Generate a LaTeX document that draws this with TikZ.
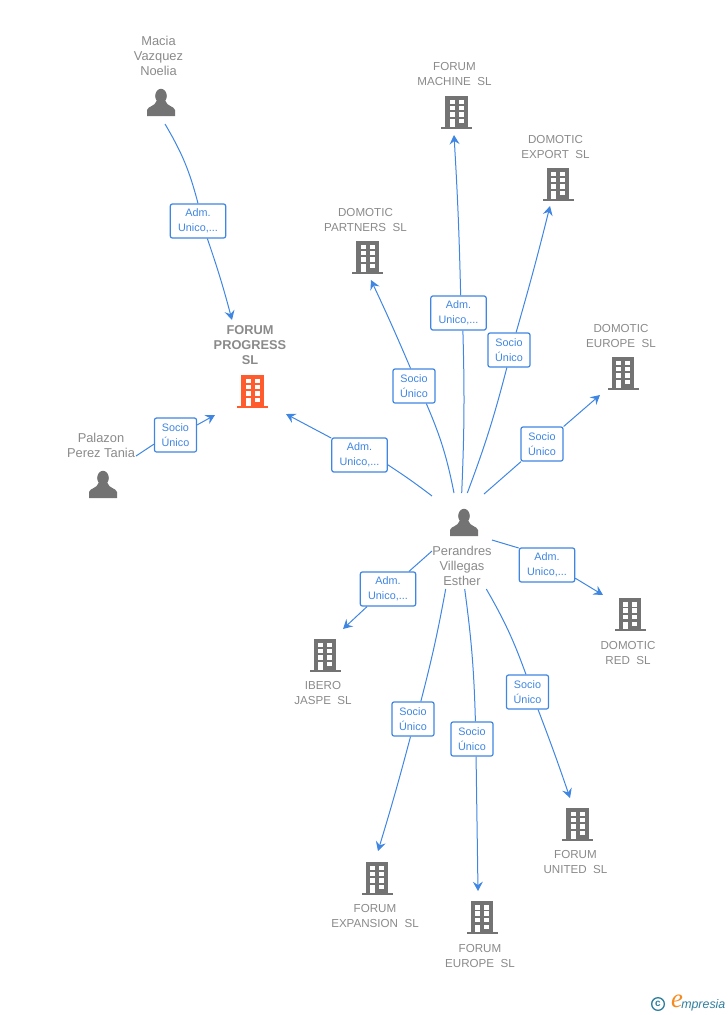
\documentclass[tikz,border=0pt]{standalone}
\usepackage{fontspec}
\setmainfont{Liberation Sans}
\newfontfamily\logofont{Liberation Serif}
\usetikzlibrary{arrows.meta}

\definecolor{linkblue}{HTML}{3F86E3}
\definecolor{labelgray}{HTML}{8A8A8A}
\definecolor{icongray}{HTML}{737373}
\definecolor{mainorange}{HTML}{FF5B2C}
\definecolor{logoblue}{HTML}{2F7F9F}
\definecolor{logoorange}{HTML}{F58A1F}

\tikzset{
    rel/.style={linkblue, line width=0.75pt},
    relto/.style={rel, -{Stealth[length=7pt,width=7.5pt,inset=2.5pt]}},
    rolebox/.style={draw=linkblue, line width=0.9pt, fill=white, rounded corners=1.5pt, inner sep=0pt,
        minimum height=25.5pt, text=linkblue, align=center, font=\fontsize{8.1}{11.25}\selectfont},
    sociobox/.style={rolebox, minimum width=31.5pt},
    admbox/.style={rolebox, minimum width=41.5pt},
    person/.style={text=labelgray, align=center, inner sep=0pt, font=\fontsize{9.65}{11.25}\selectfont},
    company/.style={text=labelgray, align=center, inner sep=0pt, font=\fontsize{8.7}{11.25}\selectfont},
    pics/tower/.style={code={
        \fill[#1] (-11.3,-16.3) rectangle (11.3,14.7);
        \fill[#1] (-15.5,14.5) rectangle (15.5,16.5);
        \foreach \y in {-12.3,-6.3,0.3}
            \foreach \x in {-7,2.4}
                \fill[white] (\x,\y) rectangle ++(5,4.3);
        \fill[white] (-7,7) rectangle (-2,14.7);
        \fill[white] (2.4,7) rectangle (7.4,11.3);
    }},
    pics/human/.style={code={
        \fill[icongray] (0,-7) ellipse (5.8 and 7.2);
        \fill[icongray] (-14,13) -- (-14,7) .. controls (-13,3) and (-6,3.5) .. (-4.5,-2)
            -- (4.5,-2) .. controls (6,3.5) and (13,3) .. (14,7) -- (14,13) -- cycle;
    }}
}

\begin{document}
\begin{tikzpicture}[x=0.75pt,y=-0.75pt]
    \useasboundingbox (0,0) rectangle (728,1015);

    % Icons
    \pic at (161,103) {human};
    \pic at (103,485) {human};
    \pic at (464,523) {human};
    \pic at (252.5,391) {tower=mainorange};
    \pic at (456.5,112) {tower=icongray};
    \pic at (558,184) {tower=icongray};
    \pic at (367.5,257) {tower=icongray};
    \pic at (623,373) {tower=icongray};
    \pic at (630,614.5) {tower=icongray};
    \pic at (325,655) {tower=icongray};
    \pic at (577.5,824) {tower=icongray};
    \pic at (377,878) {tower=icongray};
    \pic at (482,917.5) {tower=icongray};

    % Names
    \node[person] (macia) at (158.5,55.5) {Macia\\Vazquez\\Noelia};
    \node[person] (palazon) at (101,445) {Palazon\\Perez Tania};
    \node[person] (esther) at (462,565.5) {Perandres\\Villegas\\Esther};
    \node[company, font=\fontsize{9.6}{11.25}\selectfont\bfseries] (progress) at (250,345.5) {FORUM\\PROGRESS\\SL};
    \node[company] (machine) at (454.5,74.5) {FORUM\\MACHINE~~SL};
    \node[company] (export) at (555.5,146.5) {DOMOTIC\\EXPORT~~SL};
    \node[company] (partners) at (365.5,219.5) {DOMOTIC\\PARTNERS~~SL};
    \node[company] (europe) at (621,335.5) {DOMOTIC\\EUROPE~~SL};
    \node[company] (red) at (628,652.5) {DOMOTIC\\RED~~SL};
    \node[company] (ibero) at (323,692.5) {IBERO\\JASPE~~SL};
    \node[company] (united) at (575.5,861.5) {FORUM\\UNITED~~SL};
    \node[company] (expansion) at (375,915.5) {FORUM\\EXPANSION~~SL};
    \node[company] (feurope) at (480,955.5) {FORUM\\EUROPE~~SL};

    % Role boxes
    \node[admbox] (bmacia) at (198,221) {Adm.\\Unico,...};
    \node[sociobox] (bpalazon) at (175.5,435) {Socio\\Único};
    \node[admbox] (bprogress) at (359.5,455) {Adm.\\Unico,...};
    \node[sociobox] (bpartners) at (414,386) {Socio\\Único};
    \node[admbox] (bmachine) at (458.5,313) {Adm.\\Unico,...};
    \node[sociobox] (bexport) at (509,350) {Socio\\Único};
    \node[sociobox] (beurope) at (542,444) {Socio\\Único};
    \node[admbox] (bred) at (547,565) {Adm.\\Unico,...};
    \node[admbox] (bibero) at (388,589) {Adm.\\Unico,...};
    \node[sociobox] (bexpansion) at (413,719) {Socio\\Único};
    \node[sociobox] (bfeurope) at (472,739) {Socio\\Único};
    \node[sociobox] (bunited) at (527.5,692) {Socio\\Único};

    % Line ends
    \coordinate (smacia) at (165,124);
    \coordinate (tmacia) at (232,320);
    \coordinate (spalazon) at (136,456);
    \coordinate (tpalazon) at (215,415);
    \coordinate (sprogress) at (432,496);
    \coordinate (tprogress) at (286,414);
    \coordinate (spartners) at (454,493);
    \coordinate (tpartners) at (371,280);
    \coordinate (smachine) at (461.7,493);
    \coordinate (tmachine) at (454,135);
    \coordinate (sexport) at (467.3,493);
    \coordinate (texport) at (550,206);
    \coordinate (seurope) at (484,494);
    \coordinate (teurope) at (600,395);
    \coordinate (sred) at (492,540);
    \coordinate (tred) at (603,595);
    \coordinate (sibero) at (432,551);
    \coordinate (tibero) at (343,629);
    \coordinate (sexpansion) at (445.7,589);
    \coordinate (texpansion) at (378,851);
    \coordinate (sfeurope) at (464.7,589);
    \coordinate (tfeurope) at (478,891);
    \coordinate (sunited) at (486.3,589);
    \coordinate (tunited) at (570,798);

    % Connectors
    \draw[rel] (smacia) to[bend left=8] (bmacia.90);
    \draw[relto] (bmacia.-62) to[bend left=2] (tmacia);
    \draw[rel] (spalazon) -- (bpalazon.203);
    \draw[relto] (bpalazon.25) -- (tpalazon);
    \draw[rel] (sprogress) to[bend right=2] (bprogress.-19);
    \draw[relto] (bprogress.149) -- (tprogress);
    \draw[rel] (spartners) to[bend right=6] (bpartners.-55);
    \draw[relto] (bpartners.101) to[bend right=1] (tpartners);
    \draw[rel] (smachine) to[bend right=2] (bmachine.-76);
    \draw[relto] (bmachine.83) to[bend right=1] (tmachine);
    \draw[rel] (sexport) to[bend right=3] (bexport.-97);
    \draw[relto] (bexport.68) to[bend right=1] (texport);
    \draw[rel] (seurope) -- (beurope.220);
    \draw[relto] (beurope.39) -- (teurope);
    \draw[rel] (sred) -- (bred.149);
    \draw[relto] (bred.-25) -- (tred);
    \draw[rel] (sibero) -- (bibero.40);
    \draw[relto] (bibero.220) -- (tibero);
    \draw[rel] (sexpansion) to[bend left=2] (bexpansion.66);
    \draw[relto] (bexpansion.-98) to[bend left=1] (texpansion);
    \draw[rel] (sfeurope) to[bend left=3] (bfeurope.79);
    \draw[relto] (bfeurope.-77) -- (tfeurope);
    \draw[rel] (sunited) to[bend left=5] (bunited.95);
    \draw[relto] (bunited.-59) to[bend left=1] (tunited);

    % Logo
    \node[draw=logoblue, line width=1pt, circle, inner sep=0pt, minimum size=9.5pt, text=logoblue,
        font=\bfseries\fontsize{7.5}{7.5}\selectfont] (logoc) at (658,1004) {c};
    \node[inner sep=0pt, text=logoorange, font=\logofont\itshape\fontsize{20}{20}\selectfont] (logoe) at (677,1001) {e};
    \node[inner sep=0pt, text=logoblue, font=\itshape\fontsize{9.3}{10}\selectfont, anchor=west] (logot) at (681,1005) {mpresia};
\end{tikzpicture}
\end{document}
